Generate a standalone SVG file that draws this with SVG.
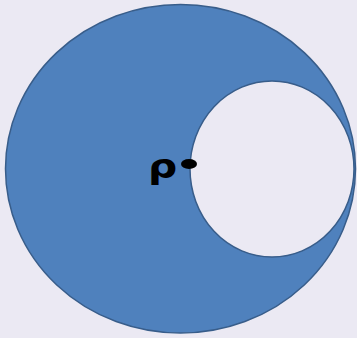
<svg xmlns="http://www.w3.org/2000/svg" width="357" height="338" viewBox="0 0 357 338">
<style>
.shape{fill:#4f81bd;stroke:#385d8a;stroke-width:1.5}
.hole{fill:#ebe9f3;stroke:#385d8a;stroke-width:1.5}
.lbl{font-family:"DejaVu Sans",sans-serif;font-size:34px;font-weight:bold;fill:#000}
</style>
<rect width="357" height="338" fill="#ebe9f3"/>
<g id="outer"><ellipse class="shape" cx="180.5" cy="168.8" rx="175" ry="164.3"/></g>
<g id="inner"><ellipse class="hole" cx="272" cy="169" rx="82" ry="88"/></g>
<g id="label"><text class="lbl" x="0" y="0" transform="translate(148 178) scale(1.2 1)">ρ</text></g>
<g id="dot"><ellipse cx="189" cy="164" rx="8" ry="5" fill="#000"/></g>
</svg>
